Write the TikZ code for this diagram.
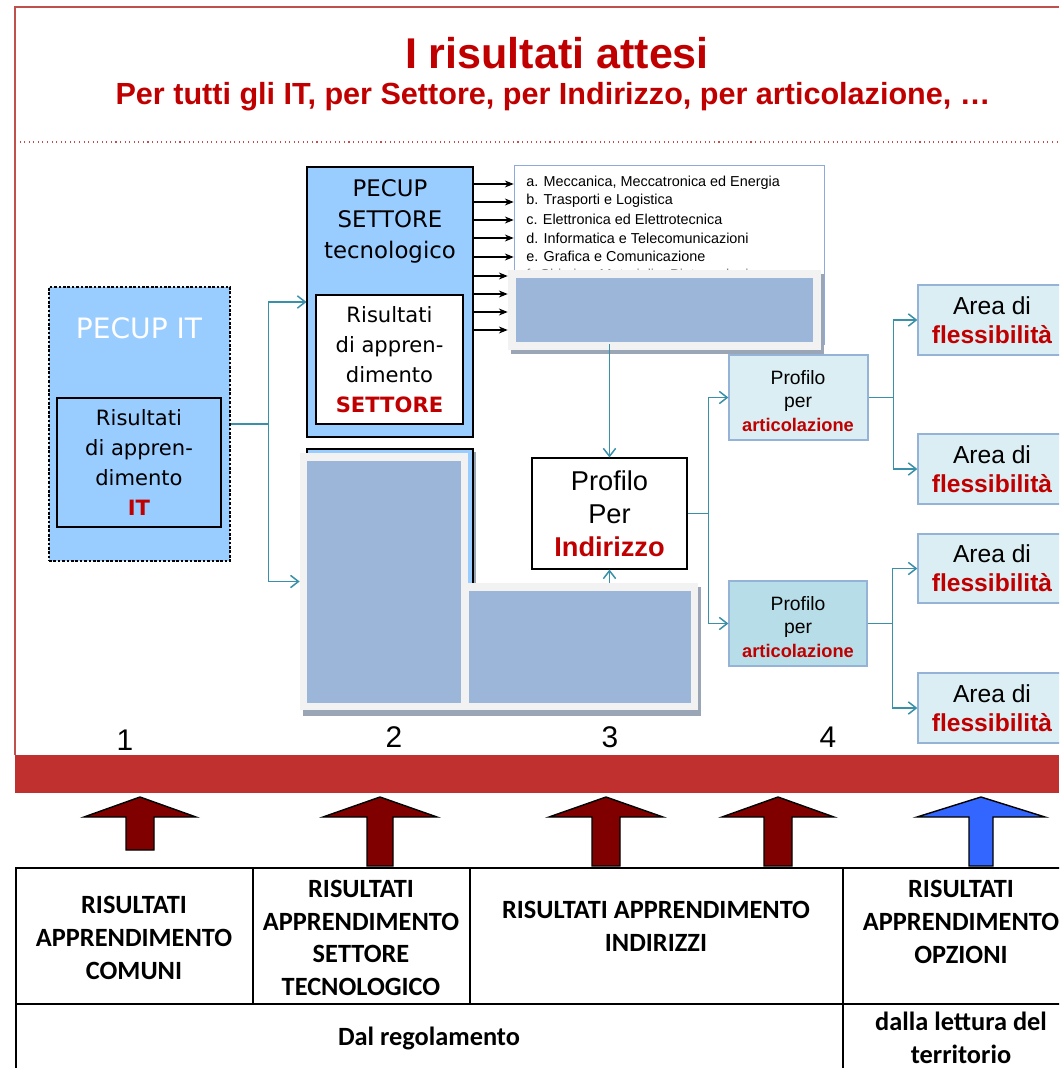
\documentclass[tikz,border=0pt]{standalone}
\usepackage{fontspec}
\setmainfont{Liberation Sans}
\newfontfamily\tahomafont{DejaVu Sans}
\newfontfamily\tabfont{Carlito}
\usepackage{tikz}
\usetikzlibrary{fit,arrows.meta}
\definecolor{titlered}{HTML}{C00000}
\definecolor{framered}{HTML}{C0504D}
\definecolor{bandred}{HTML}{C0302F}
\definecolor{pecupblue}{HTML}{99CCFF}
\definecolor{linkteal}{HTML}{3A90A8}
\definecolor{overgrey}{HTML}{F2F2F2}
\definecolor{overblue}{HTML}{9CB6DA}
\definecolor{shadowgrey}{HTML}{9AA5B6}
\definecolor{paleblue}{HTML}{DAEEF3}
\definecolor{midblue}{HTML}{B7DEE8}
\definecolor{edgeblue}{HTML}{95B3D7}
\definecolor{listedge}{HTML}{8EA9DB}
\definecolor{arrowbrown}{HTML}{800000}
\definecolor{arrowblue}{HTML}{3366FF}

\begin{document}
\begin{tikzpicture}[%
  x=0.02cm,y=-0.02cm,
  pecup/.style={draw=black,fill=pecupblue,inner sep=0pt,line width=0.6pt},
  whitebox/.style={draw=black,fill=white,inner sep=0pt,line width=0.6pt},
  over/.style={fill=overgrey,inner sep=0pt},
  overin/.style={fill=overblue,inner sep=0pt},
  shade/.style={fill=shadowgrey},
  art/.style={draw=edgeblue,fill=paleblue,inner sep=0pt,line width=0.7pt},
  tah/.style={font=\tahomafont\fontsize{12}{17}\selectfont,align=center},
  ari/.style={font=\fontsize{15.5}{18.7}\selectfont,align=center},
  small/.style={font=\fontsize{11}{13.6}\selectfont,align=center},
  area/.style={font=\fontsize{14}{16.4}\selectfont,align=center},
  desc/.style={anchor=west,font=\fontsize{8.2}{10}\selectfont,inner sep=0pt},
  num/.style={font=\fontsize{17}{20}\selectfont},
  tab/.style={font=\tabfont\bfseries\fontsize{15}{18.7}\selectfont,align=center},
  link/.style={draw=linkteal,line width=0.85pt,-{Straight Barb[length=4.5pt,width=7pt]}},
  feed/.style={draw=black,line width=0.6pt,-{Stealth[length=5pt,width=4pt]}},
  tabline/.style={draw=black,line width=1.2pt}
]
\useasboundingbox (0,0) rectangle (1059,1068);
\clip (0,0) rectangle (1059,1068);

\draw[framered,line width=0.8pt] (1059,7) -- (15,7) -- (15,755);
\draw[framered,dotted,line width=0.6pt] (15,142) -- (1059,142);

\node (title) at (557,53) [text=titlered,font=\bfseries\fontsize{24.5}{28}\selectfont] {I risultati attesi};
\node (subtitle) at (553,97) [text=titlered,font=\bfseries\fontsize{17.4}{20}\selectfont] {Per tutti gli IT, per Settore, per Indirizzo, per articolazione, …};

\node (pecupit) [pecup,dash pattern=on 1.5pt off 1pt,fit={(49,287) (230,561)}] {};
\node (itlabel) at (139,328) [text=white,font=\tahomafont\fontsize{16}{19}\selectfont] {PECUP IT};
\node (itinner) [pecup,fit={(57,398) (221,527)}] {};
\node (ittext) at (itinner) [tah] {Risultati\\di appren-\\dimento\\\textbf{\color{titlered}IT}};

\node (pecupset) [pecup,fit={(307,167) (473,437)}] {};
\node (setlabel) at (390,221) [tah,font=\tahomafont\fontsize{13}{17.6}\selectfont] {PECUP\\SETTORE\\tecnologico};
\node (setinner) [whitebox,fit={(316,295) (463,424)}] {};
\node (settext) at (setinner) [tah] {Risultati\\di appren-\\dimento\\\textbf{\color{titlered}SETTORE}};

\node (listbox) [draw=listedge,fill=white,inner sep=0pt,fit={(514,165) (824,344)}] {};
\node (ia) at (526,183) [desc] {a. Meccanica, Meccatronica ed Energia};
\node (ib) at (526,201) [desc] {b. Trasporti e Logistica};
\node (ic) at (526,219) [desc] {c. Elettronica ed Elettrotecnica};
\node (id) at (526,238) [desc] {d. Informatica e Telecomunicazioni};
\node (ie) at (526,256) [desc] {e. Grafica e Comunicazione};
\node (if) at (526,275.5) [desc,text=gray] {f. Chimica, Materiali e Biotecnologie};

\fill[shade] (511,274) rectangle (824,354);
\node (topover) [over,fit={(508,270) (821,350)}] {};
\node (topin) [overin,fit={(516,278) (813,342)}] {};

\foreach \y in {184,202,220,238,257}
  \draw[feed] (pecupset.east |- 0,\y) -- (listbox.west |- 0,\y);
\foreach \y in {276,294,312,330}
  \draw[feed] (pecupset.east |- 0,\y) -- (topover.west |- 0,\y);

\fill[shade] (310,452) rectangle (476,716);
\node (hidden) [pecup,fit={(307,449) (473,712)}] {};
\fill[shade] (303,457) rectangle (465,716);
\node (lowleft) [over,fit={(300,453) (468,710)}] {};
\node (lowleftin) [overin,fit={(307,461) (461,703)}] {};
\fill[shade] (465,587) rectangle (701,716);
\node (lowright) [over,fit={(462,583) (698,710)}] {};
\node (lowrightin) [overin,fit={(469,591) (691,703)}] {};

\node (indir) [whitebox,fit={(532,458) (687,569)}] {};
\node (indirtext) at (indir) [ari] {Profilo\\Per\\\textbf{\color{titlered}Indirizzo}};

\node (art1) [art,fit={(729,355) (868,440)}] {};
\node (art1text) at (798,401) [small] {Profilo\\per\\\textbf{\color{titlered}\fontsize{10.4}{12}\selectfont articolazione}};
\node (art2) [art,fill=midblue,fit={(729,581) (867,666)}] {};
\node (art2text) at (798,627) [small] {Profilo\\per\\\textbf{\color{titlered}\fontsize{10.4}{12}\selectfont articolazione}};

\node (area1) [art,fit={(918,285) (1066,355)}] {};
\node (area2) [art,fit={(918,434) (1066,504)}] {};
\node (area3) [art,fit={(918,534) (1066,603)}] {};
\node (area4) [art,fit={(918,673) (1066,743)}] {};
\foreach \a in {area1,area2,area3,area4}
  \node (\a text) at (\a) [area] {Area di\\\textbf{\color{titlered}flessibilità}};

\draw[link] (pecupit.east) -- ++(38,0) coordinate (j1) |- (pecupset.west);
\draw[link] (j1) |- (lowleft.west);
\draw[link] (indir.north |- listbox.south) -- (indir.north);
\draw[link] (indir.south |- lowright.north) -- (indir.south);
\draw[link] (indir.east) -- ++(21,0) coordinate (j2) |- (art1.west);
\draw[link] (j2) |- (art2.west);
\draw[link] (art1.east) -- ++(25,0) coordinate (j3) |- (area1.west);
\draw[link] (j3) |- (area2.west);
\draw[link] (art2.east) -- ++(25,0) coordinate (j4) |- (area3.west);
\draw[link] (j4) |- (area4.west);

\node (num1) at (125,740) [num] {1};
\node (num2) at (394,737) [num] {2};
\node (num3) at (610,737) [num] {3};
\node (num4) at (828,737) [num] {4};

\fill[bandred] (15,755) rectangle (1059,793);

\foreach \x/\w/\s/\b/\c in {140/56/14/850/arrowbrown,380/57/13/866/arrowbrown,606/57/14/866/arrowbrown,778/56/14/866/arrowbrown,981/64/12/866/arrowblue}
  \draw[black,fill=\c,line width=0.8pt] (\x,797) -- (\x+\w,817) -- (\x+\s,817) -- (\x+\s,\b) -- (\x-\s,\b) -- (\x-\s,817) -- (\x-\w,817) -- cycle;

\draw[tabline] (16,868) rectangle (1080,1075);
\draw[tabline] (16,1004) -- (1080,1004);
\draw[tabline] (253,868) -- (253,1004);
\draw[tabline] (470,868) -- (470,1004);
\draw[tabline] (843,868) -- (843,1075);

\node (comuni) at (134,938) [tab] {RISULTATI\\APPRENDIMENTO\\COMUNI};
\node (settore) at (361,938) [tab] {RISULTATI\\APPRENDIMENTO\\SETTORE\\TECNOLOGICO};
\node (indirizzi) at (656,926) [tab] {RISULTATI APPRENDIMENTO\\INDIRIZZI};
\node (opzioni) at (961,922) [tab] {RISULTATI\\APPRENDIMENTO\\OPZIONI};
\node (regol) at (429,1038) [tab] {Dal regolamento};
\node (territ) at (961,1038) [tab] {dalla lettura del\\territorio};
\end{tikzpicture}
\end{document}
